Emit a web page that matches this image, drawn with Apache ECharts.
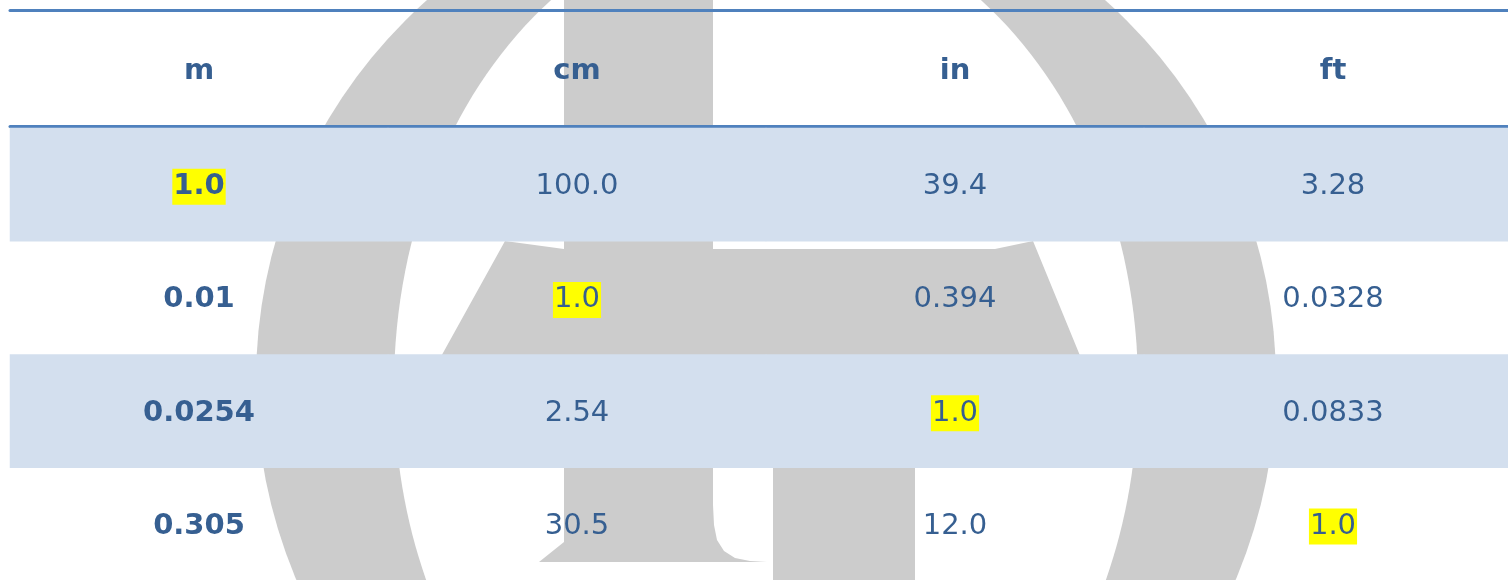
<!DOCTYPE html>
<html style="height: 100%">
<head>
<meta charset="utf-8">
</head>
<body style="height: 100%; margin: 0; background: #fff">
<div id="container" style="width: 1508px; height: 580px"></div>
<script src="https://cdn.jsdelivr.net/npm/echarts@6.0.0/dist/echarts.min.js"></script>
<script type="text/javascript">
var units = ['m', 'cm', 'in', 'ft'];
var rowNames = ['1 m', '1 cm', '1 in', '1 ft'];
var meters = ['1.0', '0.01', '0.0254', '0.305'];
var centimeters = ['100.0', '1.0', '2.54', '30.5'];
var inches = ['39.4', '0.394', '1.0', '12.0'];
var feet = ['3.28', '0.0328', '0.0833', '1.0'];
var columns = [meters, centimeters, inches, feet];

var textColor = '#365f91';
var lineColor = '#4f81bd';
var bandColor = '#d3dfee';
var markColor = '#ffff00';
var wmColor = '#cccccc';
var font = '"DejaVu Sans", Verdana, sans-serif';

var dom = document.getElementById('container');
var chart = echarts.init(dom);

// one cell per unit pair, every other row banded
var cells = [];
for (var c = 0; c < columns.length; c++) {
    for (var r = 0; r < rowNames.length; r++) {
        var item = {
            value: [c, r, r % 2 === 0 ? 1 : 0],
            itemStyle: { color: r % 2 === 0 ? bandColor : 'rgba(255,255,255,0)' },
            label: {}
        };
        if (c === 0) item.label.fontWeight = 'bold';
        if (c === r) item.label.backgroundColor = markColor;
        cells.push(item);
    }
}

var option = {
    backgroundColor: '#fff',
    animation: false,
    grid: {
        left: 10,
        top: 128,
        width: 1512,
        height: 453,
        outerBoundsMode: 'none'
    },
    // faded logo behind the table
    graphic: [
        { type: 'circle', z: -3, silent: true, shape: { cx: 766, cy: 381, r: 510 }, style: { fill: wmColor } },
        { type: 'ellipse', z: -2, silent: true, shape: { cx: 766, cy: 387, rx: 372, ry: 474 }, style: { fill: '#fff' } },
        { type: 'polygon', z: -1, silent: true, shape: { points: [[505, 241], [564, 249], [995, 249], [1033, 241], [1090, 380], [428, 380]] }, style: { fill: wmColor } },
        { type: 'rect', z: -1, silent: true, shape: { x: 564, y: 0, width: 149, height: 562 }, style: { fill: wmColor } },
        { type: 'rect', z: -1, silent: true, shape: { x: 773, y: 249, width: 142, height: 340 }, style: { fill: wmColor } },
        { type: 'polygon', z: -1, silent: true, shape: { points: [[539, 562], [564, 542], [564, 562]] }, style: { fill: wmColor } },
        { type: 'polygon', z: -1, silent: true, shape: { points: [[713, 505], [714, 525], [717, 540], [724, 551], [735, 558], [750, 561], [767, 562], [713, 562]] }, style: { fill: wmColor } }
    ],
    xAxis: [
        {
            type: 'category',
            data: units,
            position: 'top',
            offset: 1.5,
            axisLine: { lineStyle: { color: lineColor, width: 3 } },
            axisTick: { show: false },
            splitLine: { show: false },
            axisLabel: {
                margin: 55,
                verticalAlign: 'middle',
                color: textColor,
                fontSize: 29,
                fontWeight: 'bold',
                fontFamily: font
            }
        },
        {
            type: 'category',
            data: units,
            position: 'top',
            offset: 117.5,
            axisLine: { lineStyle: { color: lineColor, width: 3 } },
            axisTick: { show: false },
            splitLine: { show: false },
            axisLabel: { show: false }
        }
    ],
    yAxis: {
        type: 'category',
        data: rowNames,
        inverse: true,
        show: false
    },
    series: [
        {
            type: 'heatmap',
            xAxisIndex: 0,
            data: cells,
            emphasis: { disabled: true },
            itemStyle: { borderWidth: 0 },
            label: {
                show: true,
                offset: [0, 2],
                color: textColor,
                fontSize: 29,
                fontFamily: font,
                lineHeight: 34,
                padding: [1, 1],
                formatter: function (p) {
                    return columns[p.value[0]][p.value[1]];
                }
            }
        }
    ]
};
chart.setOption(option);
</script>
</body>
</html>
